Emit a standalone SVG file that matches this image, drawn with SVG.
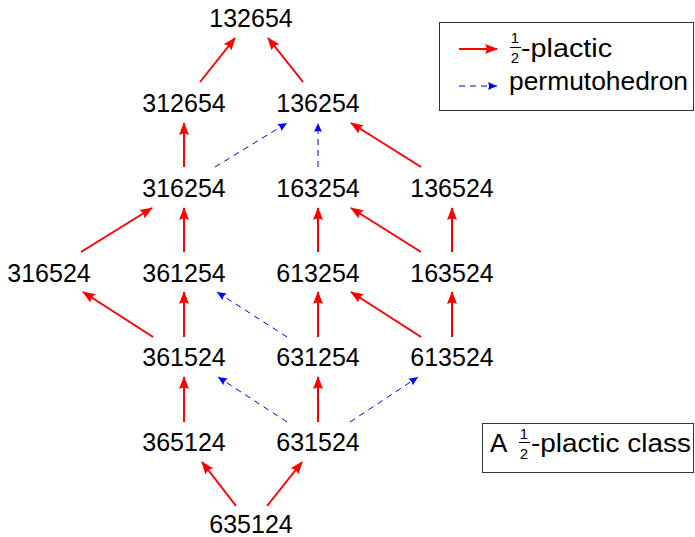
<svg xmlns="http://www.w3.org/2000/svg" width="695" height="537" viewBox="0 0 695 537">
<style>
  .n { font-family: "Liberation Sans", Arial, sans-serif; font-size: 25px; fill: #000; text-anchor: middle; }
  .t { font-family: "Liberation Sans", Arial, sans-serif; font-size: 26px; fill: #000; }
  .f { font-family: "Liberation Sans", Arial, sans-serif; font-size: 15px; fill: #000; text-anchor: middle; }
  .r { stroke: #ff0000; stroke-width: 2; fill: none; marker-end: url(#ah); }
  .b { stroke: #0000ff; stroke-width: 1; fill: none; stroke-dasharray: 6 5; marker-end: url(#bh); }
  .box { fill: #fff; stroke: #333; stroke-width: 1; }
</style>
<defs>
  <marker id="ah" viewBox="0 0 13 10" refX="12" refY="5" markerWidth="13" markerHeight="10" markerUnits="userSpaceOnUse" orient="auto">
    <path d="M0,0 L13,5 L0,10 Q3,5 0,0 z" fill="#ff0000"/>
  </marker>
  <marker id="bh" viewBox="0 0 9 8" refX="9" refY="4" markerWidth="9" markerHeight="8" markerUnits="userSpaceOnUse" orient="auto">
    <path d="M0,0 L9,4 L0,8 Q2,4 0,0 z" fill="#0000ff"/>
  </marker>
</defs>

<g id="connectors">
  <line class="r" x1="200" y1="82" x2="235" y2="38"/>
  <line class="r" x1="303" y1="82" x2="268" y2="38"/>
  <line class="r" x1="184" y1="167" x2="184" y2="123"/>
  <line class="b" x1="215" y1="167" x2="287" y2="123"/>
  <line class="b" x1="318" y1="167" x2="318" y2="123"/>
  <line class="r" x1="421" y1="167" x2="351" y2="123"/>
  <line class="r" x1="81" y1="252" x2="152" y2="208"/>
  <line class="r" x1="184" y1="252" x2="184" y2="208"/>
  <line class="r" x1="318" y1="252" x2="318" y2="208"/>
  <line class="r" x1="421" y1="252" x2="351" y2="208"/>
  <line class="r" x1="452" y1="252" x2="452" y2="208"/>
  <line class="r" x1="153" y1="337" x2="83" y2="292"/>
  <line class="r" x1="184" y1="337" x2="184" y2="292"/>
  <line class="b" x1="287" y1="337" x2="217" y2="292"/>
  <line class="r" x1="318" y1="337" x2="318" y2="292"/>
  <line class="r" x1="421" y1="337" x2="351" y2="292"/>
  <line class="r" x1="452" y1="337" x2="452" y2="292"/>
  <line class="r" x1="184" y1="422" x2="184" y2="377"/>
  <line class="b" x1="287" y1="422" x2="218" y2="377"/>
  <line class="r" x1="318" y1="422" x2="318" y2="377"/>
  <line class="b" x1="350" y1="422" x2="418" y2="377"/>
  <line class="r" x1="236" y1="506" x2="202" y2="462"/>
  <line class="r" x1="267" y1="506" x2="302" y2="462"/>
</g>

<g id="n132654"><text class="n" x="251" y="27">132654</text></g>
<g id="n312654"><text class="n" x="184" y="112">312654</text></g>
<g id="n136254"><text class="n" x="318" y="112">136254</text></g>
<g id="n316254"><text class="n" x="184" y="197">316254</text></g>
<g id="n163254"><text class="n" x="318" y="197">163254</text></g>
<g id="n136524"><text class="n" x="452" y="197">136524</text></g>
<g id="n316524"><text class="n" x="49" y="282">316524</text></g>
<g id="n361254"><text class="n" x="184" y="282">361254</text></g>
<g id="n613254"><text class="n" x="318" y="282">613254</text></g>
<g id="n163524"><text class="n" x="452" y="282">163524</text></g>
<g id="n361524"><text class="n" x="184" y="366">361524</text></g>
<g id="n631254"><text class="n" x="318" y="366">631254</text></g>
<g id="n613524"><text class="n" x="452" y="366">613524</text></g>
<g id="n365124"><text class="n" x="184" y="451">365124</text></g>
<g id="n631524"><text class="n" x="318" y="451">631524</text></g>
<g id="n635124"><text class="n" x="251" y="533">635124</text></g>

<g id="legend">
  <rect class="box" x="439.5" y="22.5" width="254" height="88"/>
  <line class="r" x1="459" y1="49" x2="497" y2="49"/>
  <text class="f" x="515" y="43">1</text>
  <line x1="510" y1="47.5" x2="521" y2="47.5" stroke="#000" stroke-width="1"/>
  <text class="f" x="515" y="63">2</text>
  <text class="t" x="521" y="57" textLength="91" lengthAdjust="spacingAndGlyphs">-plactic</text>
  <line class="b" x1="459" y1="86" x2="497" y2="86"/>
  <text class="t" x="509" y="90" textLength="179" lengthAdjust="spacingAndGlyphs">permutohedron</text>
</g>

<g id="label">
  <rect class="box" x="482.5" y="423.5" width="211" height="49"/>
  <text class="t" x="490" y="452">A</text>
  <text class="f" x="524" y="439">1</text>
  <line x1="519" y1="442.5" x2="530" y2="442.5" stroke="#000" stroke-width="1"/>
  <text class="f" x="524" y="459">2</text>
  <text class="t" x="531" y="452" textLength="160" lengthAdjust="spacingAndGlyphs">-plactic class</text>
</g>
</svg>
